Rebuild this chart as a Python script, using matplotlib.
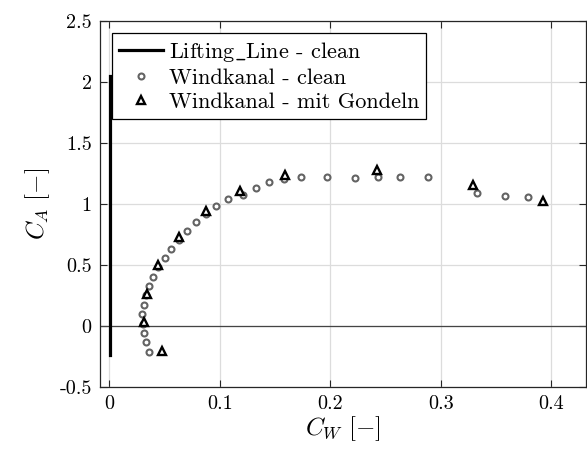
import matplotlib
matplotlib.use("Agg")
import matplotlib.pyplot as plt

plt.rcParams['font.family'] = 'serif'
plt.rcParams['font.serif'] = ['cmr10', 'DejaVu Serif']
plt.rcParams['mathtext.fontset'] = 'cm'
plt.rcParams['axes.formatter.use_mathtext'] = True

# Lifting line (clean)
ll_cw = [0.0007, 0.0007]
ll_ca = [-0.24, 2.05]

# Wind tunnel - clean
wk_cw = [0.0359, 0.0329, 0.0311, 0.0302, 0.0298, 0.0311, 0.0332, 0.0362, 0.0392,
         0.0443, 0.0501, 0.0558, 0.0630, 0.0703, 0.0784, 0.0872, 0.0962, 0.1076,
         0.1212, 0.1326, 0.1450, 0.1580, 0.1736, 0.1970, 0.2228, 0.2436, 0.2631,
         0.2882, 0.3331, 0.3580, 0.3792]
wk_ca = [-0.211, -0.134, -0.058, 0.019, 0.096, 0.175, 0.252, 0.326, 0.405,
         0.482, 0.561, 0.635, 0.707, 0.781, 0.849, 0.915, 0.980, 1.038,
         1.076, 1.128, 1.178, 1.208, 1.224, 1.224, 1.216, 1.222, 1.219,
         1.219, 1.090, 1.068, 1.054]

# Wind tunnel - with nacelles
wg_cw = [0.0474, 0.0311, 0.0338, 0.0443, 0.0630, 0.0872, 0.1182, 0.1589, 0.2420,
         0.3292, 0.3930]
wg_ca = [-0.205, 0.030, 0.263, 0.501, 0.729, 0.939, 1.109, 1.241, 1.282,
         1.156, 1.021]

xticks = [0, 0.1, 0.2, 0.3, 0.4]
xticklabels = ['0', '0.1', '0.2', '0.3', '0.4']
yticks = [-0.5, 0, 0.5, 1, 1.5, 2, 2.5]
yticklabels = ['-0.5', '0', '0.5', '1', '1.5', '2', '2.5']

fig = plt.figure(figsize=(5.87, 4.59), dpi=100)
ax = fig.add_axes([100/587, 1-387/459, 1-100/587-0.001, (387-21)/459])

ax.axhline(0, color='#444444', lw=0.9, zorder=1)
ax.plot(ll_cw, ll_ca, color='black', lw=2.3, label=r'Lifting$\_$Line - clean', zorder=3)
ax.plot(wk_cw, wk_ca, ls='none', marker='o', ms=4.3, mfc='white', mec='#636363',
        mew=1.5, label='Windkanal - clean', zorder=4)
ax.plot(wg_cw, wg_ca, ls='none', marker='^', ms=6.2, mfc='white', mec='black',
        mew=1.7, label='Windkanal - mit Gondeln', zorder=5)

ax.set_xlim(-0.0085, 0.432)
ax.set_ylim(-0.5, 2.5)
ax.set_xticks(xticks)
ax.set_xticklabels(xticklabels)
ax.set_yticks(yticks)
ax.set_yticklabels(yticklabels)
ax.tick_params(direction='in', top=True, right=True, labelsize=14.5, length=5,
               width=0.8, color='#262626', pad=6)
ax.grid(True, color='#dcdcdc', lw=0.9)
ax.set_axisbelow(True)
for s in ax.spines.values():
    s.set_color('#262626')
    s.set_linewidth(0.9)

ax.set_xlabel(r'$C_W\ [-]$', fontsize=18, labelpad=1)
ax.set_ylabel(r'$C_A\ [-]$', fontsize=18, labelpad=5)

leg = ax.legend(loc='upper left', fontsize=16, frameon=True, fancybox=False,
                edgecolor='black', framealpha=1, borderpad=0.3, labelspacing=0.2,
                handlelength=2.0, handletextpad=0.25, borderaxespad=0.55)
leg.get_frame().set_linewidth(0.9)

fig.savefig('out.png', dpi=100)
